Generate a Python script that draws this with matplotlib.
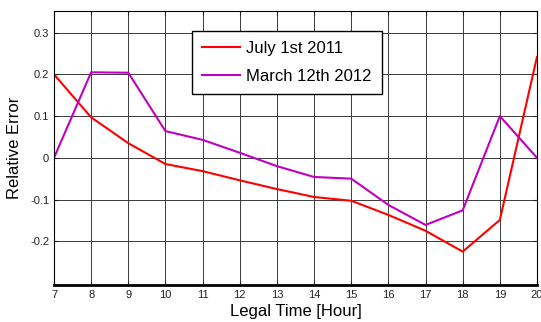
import matplotlib

matplotlib.use("Agg")
import matplotlib.pyplot as plt  # noqa: E402

hours = list(range(7, 21))
july_2011 = [0.200, 0.097, 0.035, -0.015, -0.032, -0.054, -0.075, -0.094,
             -0.103, -0.137, -0.175, -0.225, -0.149, 0.242]
march_2012 = [0.000, 0.205, 0.204, 0.064, 0.043, 0.012, -0.020, -0.046,
              -0.050, -0.113, -0.161, -0.126, 0.100, 0.000]
yticks = [-0.2, -0.1, 0, 0.1, 0.2, 0.3]
ytick_labels = ["-0.2", "-0.1", "0", "0.1", "0.2", "0.3"]

plt.rcParams["font.family"] = ["Liberation Sans", "DejaVu Sans"]

fig = plt.figure(figsize=(5.41, 3.22), dpi=100)
ax = fig.add_axes([54 / 541, 1 - 285 / 322, 483 / 541, 274 / 322])

ax.plot(hours, july_2011, color="#ff0000", lw=1.5, label="July 1st 2011")
ax.plot(hours, march_2012, color="#bf00bf", lw=1.5, label="March 12th 2012")

ax.set_xlim(7, 20)
ax.set_ylim(-0.305, 0.352)
ax.set_xticks(hours)
ax.set_yticks(yticks)
ax.set_yticklabels(ytick_labels)
ax.grid(True, color="#3a3a3a", lw=0.7)
ax.tick_params(direction="in", labelsize=8, length=3, top=True, right=True,
               colors="#222222")
for side in ["top", "right", "left"]:
    ax.spines[side].set_linewidth(0.8)
ax.spines["bottom"].set_linewidth(2.0)

ax.set_xlabel("Legal Time [Hour]", fontsize=12, labelpad=3)
ax.set_ylabel("Relative Error", fontsize=12, labelpad=6)

leg = ax.legend(loc="upper left", bbox_to_anchor=(0.286, 0.927), fontsize=12,
                frameon=True, fancybox=False, edgecolor="black",
                framealpha=1, handlelength=2.3, handletextpad=0.35,
                borderpad=0.6, labelspacing=0.75, borderaxespad=0)
leg.get_frame().set_linewidth(1.0)

fig.savefig("out.png", dpi=100)
